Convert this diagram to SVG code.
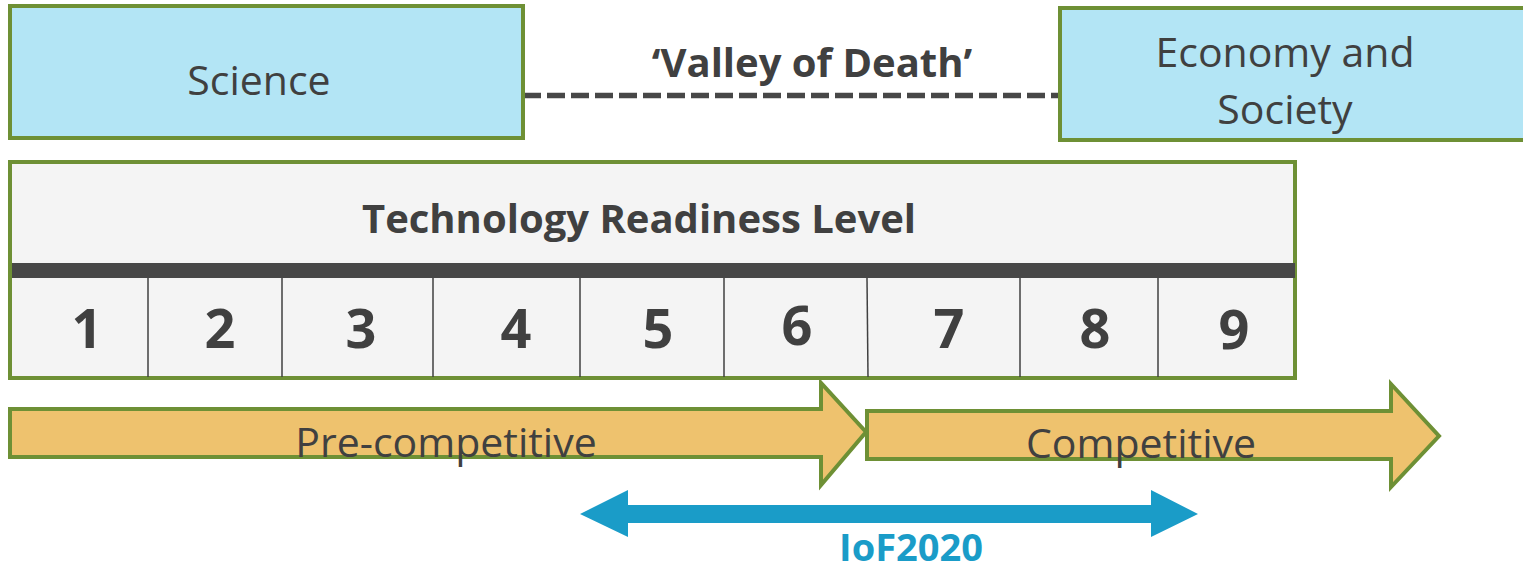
<svg xmlns="http://www.w3.org/2000/svg" width="1523" height="571" viewBox="0 0 1523 571">
  <style>
    .box { fill: #B3E5F5; stroke: #6E9035; stroke-width: 4; }
    .trl { fill: #F4F4F4; stroke: #6E9035; stroke-width: 4; }
    .div { stroke: #404040; stroke-width: 1.5; }
    .arrow { fill: #EEC26E; stroke: #6E9035; stroke-width: 4; }
    .t { font-family: "Open Sans", "Liberation Sans", sans-serif; fill: #404040; text-anchor: middle; }
    .reg { font-size: 41px; }
    .bold { font-size: 40px; font-weight: bold; }
    .num { font-size: 54px; font-weight: bold; }
  </style>
  <rect width="1523" height="571" fill="#FFFFFF"/>

  <g id="connectors">
    <line x1="523" y1="95.5" x2="1060" y2="95.5" stroke="#474747" stroke-width="5.5" stroke-dasharray="18 6"/>
    <text class="t bold" x="812" y="77">‘Valley of Death’</text>
  </g>

  <g id="science">
    <rect class="box" x="10" y="6" width="513" height="132"/>
    <text class="t reg" x="259" y="95">Science</text>
  </g>

  <g id="economy">
    <rect class="box" x="1060" y="8" width="470" height="132"/>
    <text class="t reg" x="1285" y="67">Economy and</text>
    <text class="t reg" x="1285" y="124">Society</text>
  </g>

  <g id="trl">
    <rect class="trl" x="10" y="162" width="1285" height="216"/>
    <rect x="12" y="263" width="1283" height="15" fill="#474747"/>
    <text class="t bold" x="639" y="233">Technology Readiness Level</text>
    <line class="div" x1="148" y1="278" x2="148" y2="377"/>
    <line class="div" x1="282" y1="278" x2="282" y2="377"/>
    <line class="div" x1="433" y1="278" x2="433" y2="377"/>
    <line class="div" x1="580" y1="278" x2="580" y2="377"/>
    <line class="div" x1="724" y1="278" x2="724" y2="377"/>
    <line class="div" x1="867" y1="278" x2="868" y2="377"/>
    <line class="div" x1="1020" y1="278" x2="1020" y2="377"/>
    <line class="div" x1="1158" y1="278" x2="1158" y2="377"/>
    <text class="t num" x="87" y="348">1</text>
    <text class="t num" x="220" y="348">2</text>
    <text class="t num" x="361" y="348">3</text>
    <text class="t num" x="516" y="348">4</text>
    <text class="t num" x="658" y="348">5</text>
    <text class="t num" x="797" y="345">6</text>
    <text class="t num" x="949" y="348">7</text>
    <text class="t num" x="1095" y="348">8</text>
    <text class="t num" x="1234" y="349">9</text>
  </g>

  <g id="pre-competitive">
    <polygon class="arrow" points="10,409 821,409 821,383 866,432 821,485 821,457 10,457"/>
    <text class="t reg" x="446" y="457">Pre-competitive</text>
  </g>

  <g id="competitive">
    <polygon class="arrow" points="867,411 1391,411 1391,384 1439,436 1391,487 1391,459 867,459"/>
    <text class="t reg" x="1141" y="458">Competitive</text>
  </g>

  <g id="iof2020">
    <polygon fill="#1A9CC8" points="580,514 628,490 628,505 1151,505 1151,490 1198,514 1151,537 1151,523 628,523 628,537"/>
    <text class="t bold" x="911" y="561" style="fill:#1A9CC8; font-size:38px">IoF2020</text>
  </g>
</svg>
